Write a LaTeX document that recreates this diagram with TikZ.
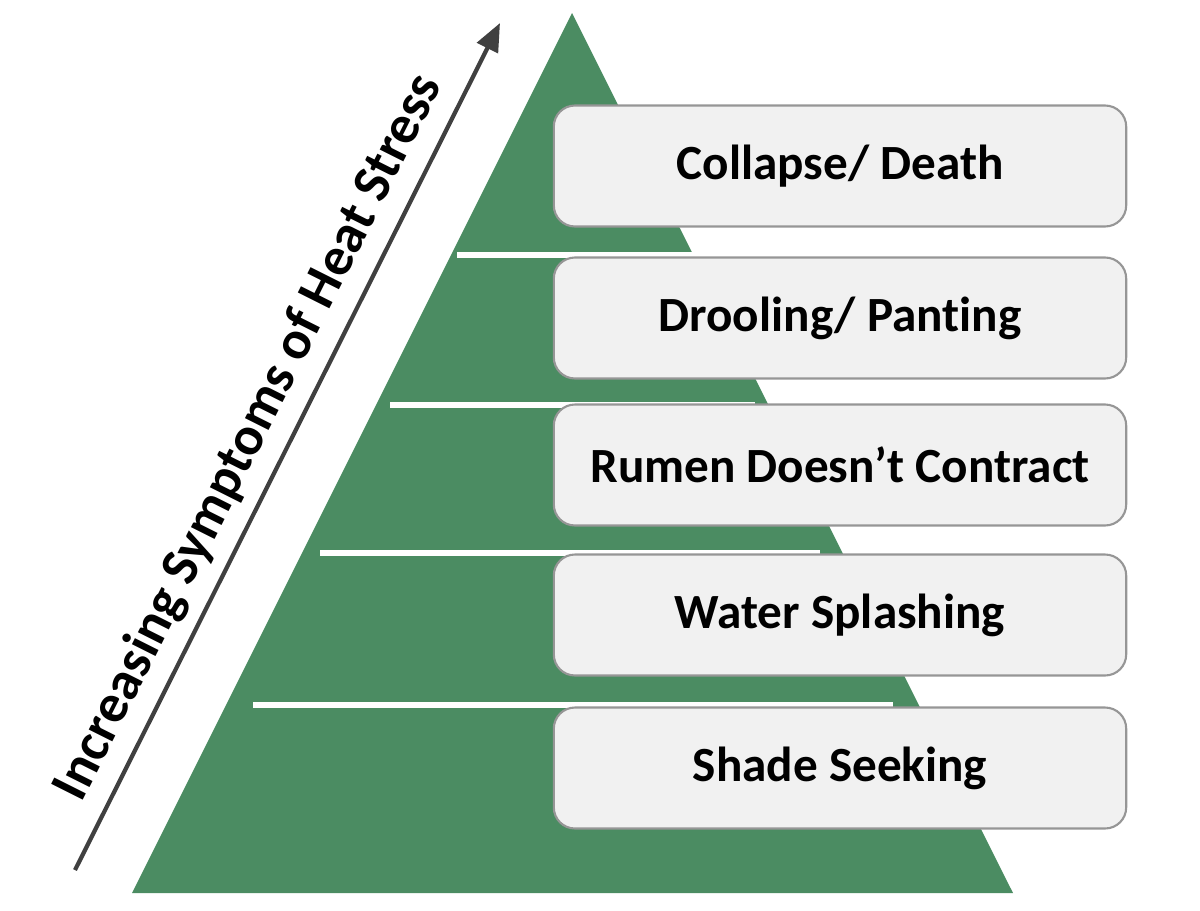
\documentclass[tikz,border=0pt]{standalone}
\usepackage{fontspec}
\setmainfont{Carlito}[Ligatures=NoCommon]
\usetikzlibrary{positioning,arrows.meta}
\definecolor{pyrgreen}{RGB}{75,140,98}
\definecolor{boxgray}{RGB}{241,241,241}
\definecolor{edgegray}{RGB}{150,150,150}
\definecolor{arrowgray}{RGB}{64,64,64}

\begin{document}
\begin{tikzpicture}[
  x=0.02cm,y=-0.02cm,
  stage/.style={rectangle,draw=edgegray,line width=1.2pt,rounded corners=12pt,fill=boxgray,
    minimum width=11.45cm,minimum height=2.42cm,font=\fontsize{28}{32}\selectfont\bfseries},
  tierline/.style={white,line width=3pt},
  risearrow/.style={-{Triangle[length=16pt,width=13pt]},line width=2.4pt,arrowgray},
  axislabel/.style={font=\fontsize{31}{36}\selectfont\bfseries,text=black,inner sep=7pt},
]
\useasboundingbox (0,0) rectangle (1200,910);

% pyramid
\fill[pyrgreen] (132,893) -- (572,13) -- (1013,893) -- cycle;

% white separators
\draw[tierline] (457,255) -- (695,255);
\draw[tierline] (390,405) -- (755,405);
\draw[tierline] (320,553) -- (820,553);
\draw[tierline] (253,705) -- (893,705);

% symptom boxes
\node[stage] (collapse) at (840,166) {Collapse/ Death};
\node[stage] (drooling) at (840,318) {Drooling/ Panting};
\node[stage] (rumen) at (840,465) {Rumen Doesn’t Contract};
\node[stage] (water) at (840,615) {Water Splashing};
\node[stage] (shade) at (840,768) {Shade Seeking};

% increasing arrow
\coordinate (low) at (75,870);
\coordinate (high) at (500,23);
\draw[risearrow] (low) -- node[axislabel,pos=0.49,above,sloped] (stress) {Increasing Symptoms of Heat Stress} (high);

\end{tikzpicture}
\end{document}
